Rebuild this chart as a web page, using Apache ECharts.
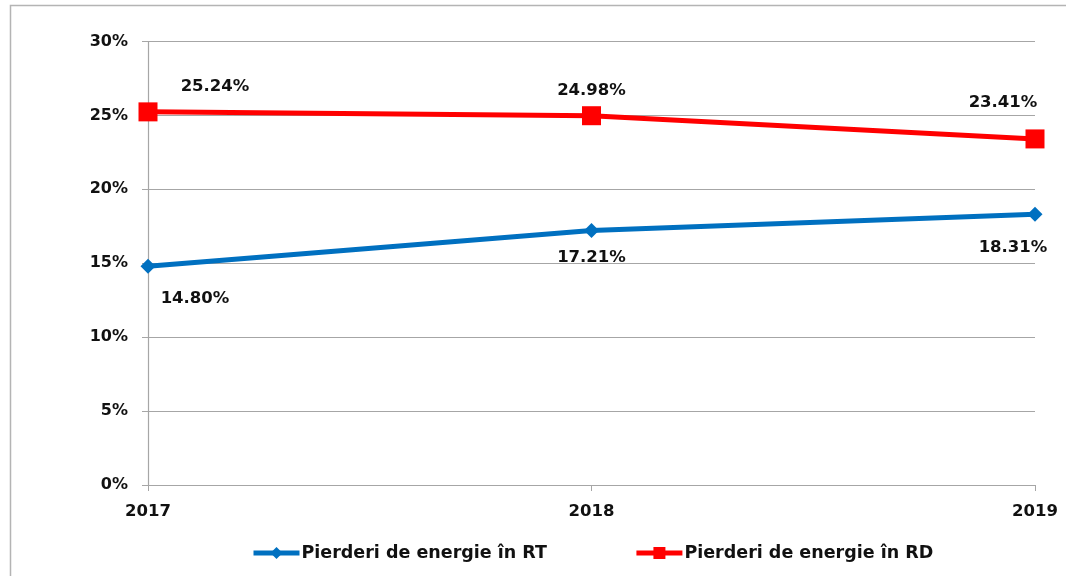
<!DOCTYPE html>
<html>
<head>
<meta charset="utf-8">
<script src="https://cdn.jsdelivr.net/npm/echarts@6/dist/echarts.min.js"></script>
<style>
    html, body { margin: 0; padding: 0; background: #fff; }
    #chart { width: 1066px; height: 576px; }
</style>
</head>
<body>
<div id="chart"></div>
<script>
const years = ['2017', '2018', '2019']
const lossRT = [14.80, 17.21, 18.31]
const lossRD = [25.24, 24.98, 23.41]
const seriesNames = ['Pierderi de energie în RT', 'Pierderi de energie în RD']

const font = 'DejaVu Sans'
// label offsets per point, the way the original sits them
const rtLabel = [
    { position: 'bottom', offset: [47, 12] },
    { position: 'bottom', offset: [0, 6] },
    { position: 'bottom', offset: [-22, 12] }
]
const rdLabel = [
    { position: 'top', offset: [67, -2] },
    { position: 'top', offset: [0, -2] },
    { position: 'top', offset: [-32, -13] }
]

const myChart = echarts.init(document.getElementById('chart'))
myChart.setOption({
    backgroundColor: '#ffffff',
    animation: false,
    graphic: [
        {
            type: 'polyline',
            shape: { points: [[10.5, 580], [10.5, 5.5], [1070, 5.5]] },
            style: { fill: 'none', stroke: '#b4b4b4', lineWidth: 1.5 }
        }
    ],
    grid: { left: 148, right: 31, top: 41.5, bottom: 91 },
    legend: {
        data: [
            { name: seriesNames[0], itemStyle: { color: '#0070c0' }, lineStyle: { width: 5, color: '#0070c0' } },
            { name: seriesNames[1], itemStyle: { color: '#ff0000' }, lineStyle: { width: 5, color: '#ff0000' } }
        ],
        bottom: 9,
        left: 246,
        itemWidth: 46,
        itemHeight: 15,
        itemGap: 87,
        textStyle: { fontFamily: font, fontWeight: 'bold', fontSize: 17.5, color: '#111', padding: [0, 0, 0, -3] }
    },
    xAxis: {
        type: 'category',
        data: years,
        boundaryGap: false,
        axisLine: { lineStyle: { color: '#a6a6a6', width: 1.2 } },
        axisTick: { show: true, length: 6, lineStyle: { color: '#a6a6a6' } },
        axisLabel: { fontFamily: font, fontWeight: 'bold', fontSize: 16.5, color: '#111', margin: 18 },
        splitLine: { show: false }
    },
    yAxis: {
        type: 'value',
        min: 0,
        max: 30,
        interval: 5,
        axisLine: { show: true, lineStyle: { color: '#a6a6a6', width: 1.2 } },
        axisTick: { show: true, length: 6, lineStyle: { color: '#a6a6a6' } },
        axisLabel: {
            fontFamily: font, fontWeight: 'bold', fontSize: 16, color: '#111', margin: 20,
            formatter: '{value}%'
        },
        splitLine: { lineStyle: { color: '#a6a6a6', width: 1.2 } }
    },
    series: [
        {
            name: seriesNames[0],
            type: 'line',
            data: lossRT.map((v, i) => ({ value: v, label: rtLabel[i] })),
            symbol: 'diamond',
            symbolSize: 15,
            lineStyle: { color: '#0070c0', width: 5 },
            itemStyle: { color: '#0070c0' },
            label: {
                show: true,
                fontFamily: font, fontWeight: 'bold', fontSize: 16.5, color: '#111',
                formatter: p => p.value.toFixed(2) + '%'
            }
        },
        {
            name: seriesNames[1],
            type: 'line',
            data: lossRD.map((v, i) => ({ value: v, label: rdLabel[i] })),
            symbol: 'rect',
            symbolSize: 19,
            lineStyle: { color: '#ff0000', width: 5 },
            itemStyle: { color: '#ff0000' },
            label: {
                show: true,
                fontFamily: font, fontWeight: 'bold', fontSize: 16.5, color: '#111',
                formatter: p => p.value.toFixed(2) + '%'
            }
        }
    ]
})
</script>
</body>
</html>
